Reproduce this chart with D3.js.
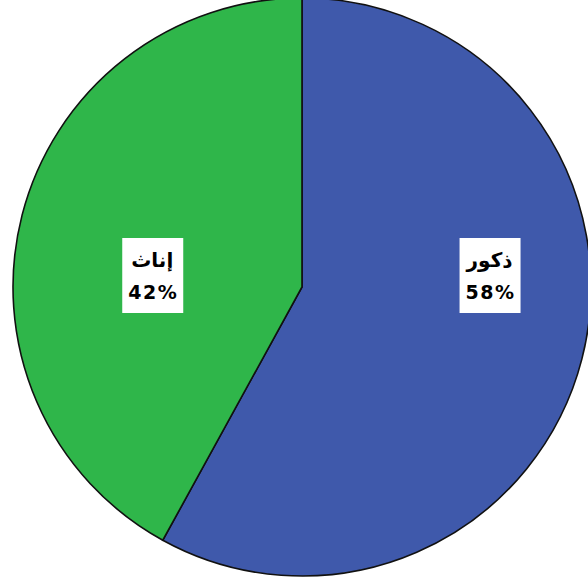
<!DOCTYPE html>
<html><head><meta charset="utf-8">
<script src="https://cdn.jsdelivr.net/npm/d3@7"></script>
<style>body{margin:0;background:#fff}svg{display:block}</style>
</head><body>
<script>
const categories = ["ذكور", "إناث"];
const values = [58, 42];
const percentLabels = ["58%", "42%"];
const colors = ["#3f59ab", "#2fb64a"];

const W = 588, H = 579, cx = 302, cy = 287, R = 289;
const svg = d3.select("body").append("svg").attr("width", W).attr("height", H);
const g = svg.append("g").attr("transform", `translate(${cx},${cy})`);
const pie = d3.pie().sort(null).value(d => d.v);
const data = categories.map((c, i) => ({c, v: values[i], p: percentLabels[i], col: colors[i]}));
const arcs = pie(data);
const arc = d3.arc().innerRadius(0).outerRadius(R);
g.selectAll("path").data(arcs).enter().append("path")
  .attr("d", arc).attr("fill", d => d.data.col)
  .attr("stroke", "#111").attr("stroke-width", 1.6);

const factors = [0.67, 0.535];
arcs.forEach((a, i) => {
  const mid = (a.startAngle + a.endAngle) / 2;
  const x = Math.sin(mid) * R * factors[i];
  const y = -12;
  const lg = g.append("g").attr("transform", `translate(${x},${y})`);
  lg.append("rect").attr("x", -30).attr("y", -37).attr("width", 61).attr("height", 75).attr("fill", "#fff");
  lg.append("text").attr("x", 0).attr("y", -15).attr("text-anchor", "middle").attr("dominant-baseline", "central")
    .attr("font-family", "DejaVu Sans").attr("font-weight", "bold").attr("font-size", 20).attr("fill", "#000").text(a.data.c);
  lg.append("text").attr("x", 1).attr("y", 17).attr("text-anchor", "middle").attr("dominant-baseline", "central")
    .attr("font-family", "DejaVu Sans").attr("font-weight", "bold").attr("font-size", 19).attr("letter-spacing", 1.5)
    .attr("fill", "#000").text(a.data.p);
});
</script>
</body></html>
